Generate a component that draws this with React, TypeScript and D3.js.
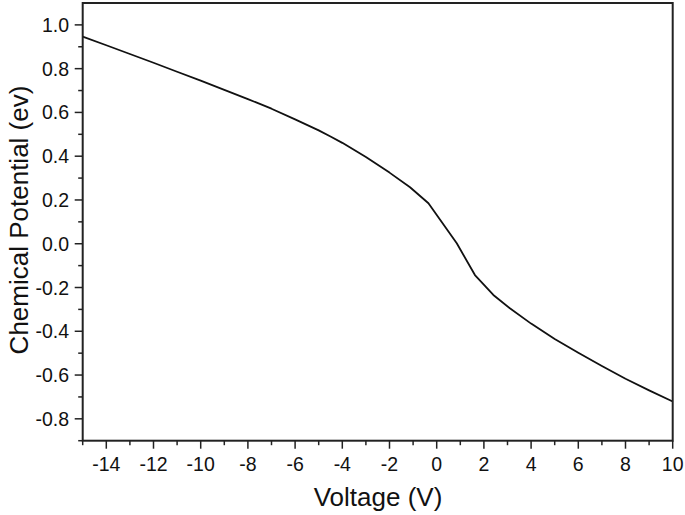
import React, { useEffect, useRef } from "react";
import * as d3 from "d3";

const voltage = [-15, -14, -13, -12, -11, -10, -9, -8, -7, -6, -5, -4.5, -4, -3, -2, -1.13, -0.35, 0.85, 1.62, 2.4, 3.1, 4, 5, 6, 7, 8, 9, 10];
const potential = [0.946, 0.907, 0.867, 0.827, 0.786, 0.745, 0.703, 0.661, 0.617, 0.568, 0.518, 0.49, 0.461, 0.396, 0.325, 0.258, 0.185, 0.002, -0.143, -0.234, -0.295, -0.365, -0.435, -0.498, -0.559, -0.617, -0.67, -0.721];
const xTicks = [-14, -12, -10, -8, -6, -4, -2, 0, 2, 4, 6, 8, 10];
const yTicks = [-0.8, -0.6, -0.4, -0.2, 0.0, 0.2, 0.4, 0.6, 0.8, 1.0];
const xMinor = [-15, -13, -11, -9, -7, -5, -3, -1, 1, 3, 5, 7, 9];
const yMinor = [-0.9, -0.7, -0.5, -0.3, -0.1, 0.1, 0.3, 0.5, 0.7, 0.9];

export default function App() {
  const ref = useRef<SVGSVGElement>(null);
  useEffect(() => {
    const svg = d3.select(ref.current);
    svg.selectAll("*").remove();
    const L = 82.7, R = 672.7, T = 3, B = 440.7;
    const x = d3.scaleLinear().domain([-15, 10]).range([L, R]);
    const y = d3.scaleLinear().domain([-0.9, 1.1]).range([B, T]);
    const font = "'Liberation Sans', Arial, sans-serif";
    const fmtX = (t: number) => d3.format("d")(t).replace("\u2212", "-");
    const fmtY = (t: number) => d3.format(".1f")(t).replace("\u2212", "-");

    const data = voltage.map((v, i) => [v, potential[i]] as [number, number]);
    svg.append("path")
      .datum(data)
      .attr("d", d3.line<[number, number]>().x(d => x(d[0])).y(d => y(d[1])).curve(d3.curveLinear))
      .attr("fill", "none").attr("stroke", "#111").attr("stroke-width", 1.8).attr("stroke-linejoin", "round");

    svg.append("rect").attr("x", L).attr("y", T).attr("width", R - L).attr("height", B - T)
      .attr("fill", "none").attr("stroke", "#222").attr("stroke-width", 2);

    const g = svg.append("g");
    xTicks.forEach(t => {
      g.append("line").attr("x1", x(t)).attr("x2", x(t)).attr("y1", B).attr("y2", B + 8).attr("stroke", "#222").attr("stroke-width", 1.5);
      g.append("text").attr("x", x(t)).attr("y", 471).attr("text-anchor", "middle")
        .attr("font-family", font).attr("font-size", 19.5).attr("fill", "#111").text(fmtX(t));
    });
    xMinor.forEach(t => {
      g.append("line").attr("x1", x(t)).attr("x2", x(t)).attr("y1", B).attr("y2", B + 4.5).attr("stroke", "#222").attr("stroke-width", 1.5);
    });
    yTicks.forEach(t => {
      g.append("line").attr("x1", L - 8).attr("x2", L).attr("y1", y(t)).attr("y2", y(t)).attr("stroke", "#222").attr("stroke-width", 1.5);
      g.append("text").attr("x", 69).attr("y", y(t) + 7).attr("text-anchor", "end")
        .attr("font-family", font).attr("font-size", 19.5).attr("fill", "#111").text(fmtY(t));
    });
    yMinor.forEach(t => {
      g.append("line").attr("x1", L - 4.5).attr("x2", L).attr("y1", y(t)).attr("y2", y(t)).attr("stroke", "#222").attr("stroke-width", 1.5);
    });

    svg.append("text").attr("x", 378).attr("y", 506).attr("text-anchor", "middle")
      .attr("font-family", font).attr("font-size", 26).attr("fill", "#111").text("Voltage (V)");
    svg.append("text").attr("transform", `translate(28,220) rotate(-90)`).attr("text-anchor", "middle")
      .attr("font-family", font).attr("font-size", 26).attr("fill", "#111").text("Chemical Potential (ev)");
  }, []);
  return (
    <svg ref={ref} width={685} height={515} style={{ position: "absolute", left: 0, top: 0, background: "#fff" }} />
  );
}
